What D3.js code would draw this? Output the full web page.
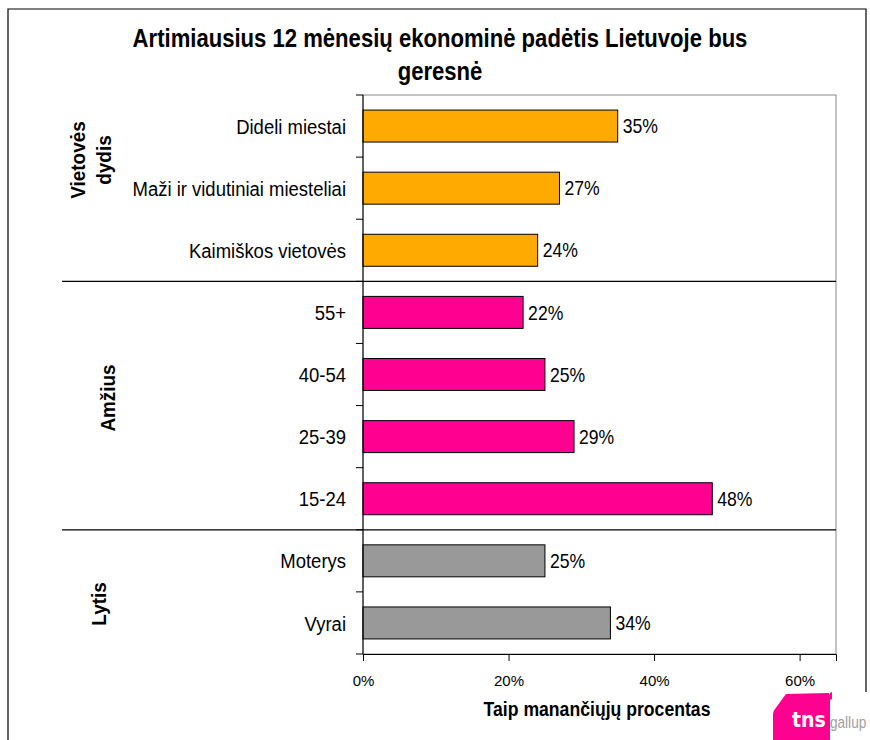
<!DOCTYPE html>
<html>
<head>
<meta charset="utf-8">
<script src="https://cdn.jsdelivr.net/npm/d3@7"></script>
<style>
  body { margin: 0; background: #fff; }
  svg { display: block; }
  text { font-family: "Liberation Sans Narrow", "Arial Narrow", "Liberation Sans", Arial, sans-serif; fill: #000; }
</style>
</head>
<body>
<div id="chart"></div>
<script>
// data
const categories = ["Dideli miestai", "Maži ir vidutiniai miesteliai", "Kaimiškos vietovės",
  "55+", "40-54", "25-39", "15-24", "Moterys", "Vyrai"];
const values = [35, 27, 24, 22, 25, 29, 48, 25, 34];
const groupOf = [0, 0, 0, 1, 1, 1, 1, 2, 2];
const groupNames = [["Vietovės", "dydis"], ["Amžius"], ["Lytis"]];
const groupColors = ["#FFAA00", "#FF0090", "#999999"];
const xTicks = [0, 20, 40, 60];

const W = 870, H = 740;
const plot = {left: 363, right: 836, top: 95, bottom: 654};
const NARROW = 0.88; // no Arial Narrow here, squeeze the regular face instead

const svg = d3.select("#chart").append("svg")
  .attr("width", W).attr("height", H);

// outer frame
svg.append("path")
  .attr("d", `M8,740 L8,9 L866,9 L866,692`)
  .attr("fill", "none").attr("stroke", "#000").attr("stroke-width", 1.2);

const x = d3.scaleLinear().domain([0, 65]).range([plot.left, plot.right]);
const yBand = d3.scaleBand().domain(categories).range([plot.top, plot.bottom]);
const y = d3.scaleBand().domain(categories).range([plot.top, plot.bottom])
  .paddingInner(0.485).paddingOuter(0.2425);

// plot area border
svg.append("rect")
  .attr("x", plot.left).attr("y", plot.top)
  .attr("width", plot.right - plot.left).attr("height", plot.bottom - plot.top)
  .attr("fill", "none").attr("stroke", "#888").attr("stroke-width", 1);

// title
const titleLines = ["Artimiausius 12 mėnesių ekonominė padėtis Lietuvoje bus", "geresnė"];
svg.append("g").selectAll("text")
  .data(titleLines)
  .join("text")
  .attr("transform", (d, i) => `translate(440,${47 + i * 33}) scale(0.85,1)`)
  .attr("text-anchor", "middle")
  .style("font-size", "26px").style("font-weight", "bold")
  .text(d => d);

// bars
svg.append("g").selectAll("rect")
  .data(categories)
  .join("rect")
  .attr("x", x(0))
  .attr("y", d => y(d))
  .attr("width", (d, i) => x(values[i]) - x(0))
  .attr("height", y.bandwidth())
  .attr("fill", (d, i) => groupColors[groupOf[i]])
  .attr("stroke", "#000").attr("stroke-width", 1);

// value labels
svg.append("g").selectAll("text")
  .data(categories)
  .join("text")
  .attr("transform", (d, i) => `translate(${x(values[i]) + 5},${y(d) + y.bandwidth() / 2}) scale(${NARROW},1)`)
  .attr("dy", "0.36em")
  .style("font-size", "20px")
  .text((d, i) => values[i] + "%");

// y axis with ticks at category boundaries
const boundaries = categories.map(c => yBand(c)).concat([plot.bottom]);
svg.append("line")
  .attr("x1", plot.left).attr("x2", plot.left)
  .attr("y1", plot.top).attr("y2", plot.bottom)
  .attr("stroke", "#000");
svg.append("g").selectAll("line")
  .data(boundaries)
  .join("line")
  .attr("x1", plot.left - 7).attr("x2", plot.left)
  .attr("y1", d => d).attr("y2", d => d)
  .attr("stroke", "#000");

// category labels
svg.append("g").selectAll("text")
  .data(categories)
  .join("text")
  .attr("transform", d => `translate(346,${y(d) + y.bandwidth() / 2}) scale(${NARROW},1)`)
  .attr("dy", "0.36em")
  .attr("text-anchor", "end")
  .style("font-size", "21px")
  .text(d => d);

// x axis
const xAxis = svg.append("g")
  .attr("transform", `translate(0,${plot.bottom})`)
  .call(d3.axisBottom(x).tickValues(xTicks).tickFormat(d => d + "%").tickSize(7).tickPadding(14));
xAxis.select(".domain").attr("stroke", "#000");
xAxis.selectAll("text").style("font-size", "15px")
  .style("font-family", "\"Liberation Sans\", Arial, sans-serif");

svg.append("text")
  .attr("transform", "translate(597,716) scale(0.84,1)")
  .attr("text-anchor", "middle")
  .style("font-size", "21px").style("font-weight", "bold")
  .text("Taip manančiųjų procentas");

// group separators
const seps = [3, 7].map(i => yBand(categories[i]));
svg.append("g").selectAll("line")
  .data(seps)
  .join("line")
  .attr("x1", 62).attr("x2", plot.right)
  .attr("y1", d => d).attr("y2", d => d)
  .attr("stroke", "#000").attr("stroke-width", 1.2);

// group labels (rotated, positions as laid out in the reference)
const groupLabelPos = [[85, 160], [115, 398], [106, 604]];
groupNames.forEach((lines, g) => {
  const [gx, gy] = groupLabelPos[g];
  const t = svg.append("text")
    .attr("transform", `translate(${gx},${gy}) rotate(-90) scale(0.9,1)`)
    .attr("text-anchor", "middle")
    .style("font-size", "21px").style("font-weight", "bold");
  lines.forEach((l, k) => t.append("tspan").attr("x", 0).attr("dy", k === 0 ? 0 : "1.25em").text(l));
});

// logo
const logo = svg.append("g").attr("transform", "translate(773,692)");
logo.append("path")
  .attr("d", "M13,2 L55,1 Q57,1 57,4 L57,48 L0,48 L0,22 Q0,19 2,17 Z")
  .attr("fill", "#FF0090");
logo.append("path")
  .attr("d", "M57,1 L59,0 L59,7 L57,8 Z")
  .attr("fill", "#FF0090");
logo.append("text")
  .attr("transform", "translate(19,35) scale(0.9,1)")
  .style("font-family", "\"DejaVu Sans\", sans-serif")
  .style("font-size", "21px").style("font-weight", "bold").style("fill", "#fff")
  .text("tns");
logo.append("text")
  .attr("transform", "translate(57,36) scale(0.85,1)")
  .style("font-size", "16px").style("fill", "#a0a0a0")
  .text("gallup");
</script>
</body>
</html>
